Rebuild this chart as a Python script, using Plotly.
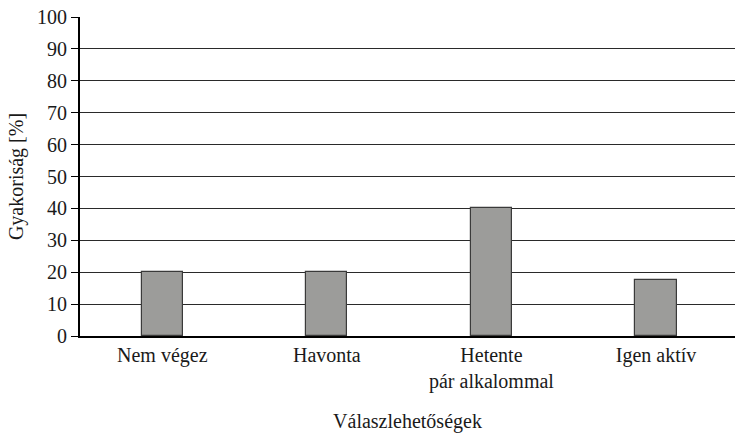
import plotly.graph_objects as go

categories = ["Nem végez", "Havonta", "Hetente<br>pár alkalommal", "Igen aktív"]
values = [20, 20, 40, 17.5]
y_ticks = [0, 10, 20, 30, 40, 50, 60, 70, 80, 90, 100]

font_family = "Liberation Serif, Times New Roman, serif"

fig = go.Figure(go.Bar(
    x=list(range(len(categories))),
    y=values,
    width=0.25,
    marker=dict(color="#9c9c9a", line=dict(color="#3a3a3a", width=1.2)),
))

fig.update_layout(
    width=735, height=433,
    margin=dict(l=80, r=0, t=17, b=97),
    paper_bgcolor="white", plot_bgcolor="white",
    font=dict(family=font_family, size=20, color="#1a1a1a"),
    showlegend=False,
    bargap=0,
)
fig.update_xaxes(
    tickmode="array",
    tickvals=list(range(len(categories))),
    ticktext=categories,
    range=[-0.5, 3.48],
    automargin=False,
    showline=True, linecolor="black", linewidth=2,
    ticks="", showgrid=False, zeroline=False,
    title=dict(text="Válaszlehetőségek", standoff=28, font=dict(size=20)),
)
fig.update_yaxes(
    range=[0, 100],
    tickvals=y_ticks,
    automargin=False,
    showline=True, linecolor="black", linewidth=2,
    ticks="outside", ticklen=7, tickcolor="black", tickwidth=1.2,
    showgrid=True, gridcolor="#2a2a2a", gridwidth=1.2,
    zeroline=False,
    ticklabeloverflow="allow",
    title=dict(text="Gyakoriság [%]", standoff=8, font=dict(size=20)),
)

fig.write_html(
    "out.html",
    config={"displayModeBar": False},
    post_script="document.body.style.margin='0';document.body.style.overflow='hidden';",
)
